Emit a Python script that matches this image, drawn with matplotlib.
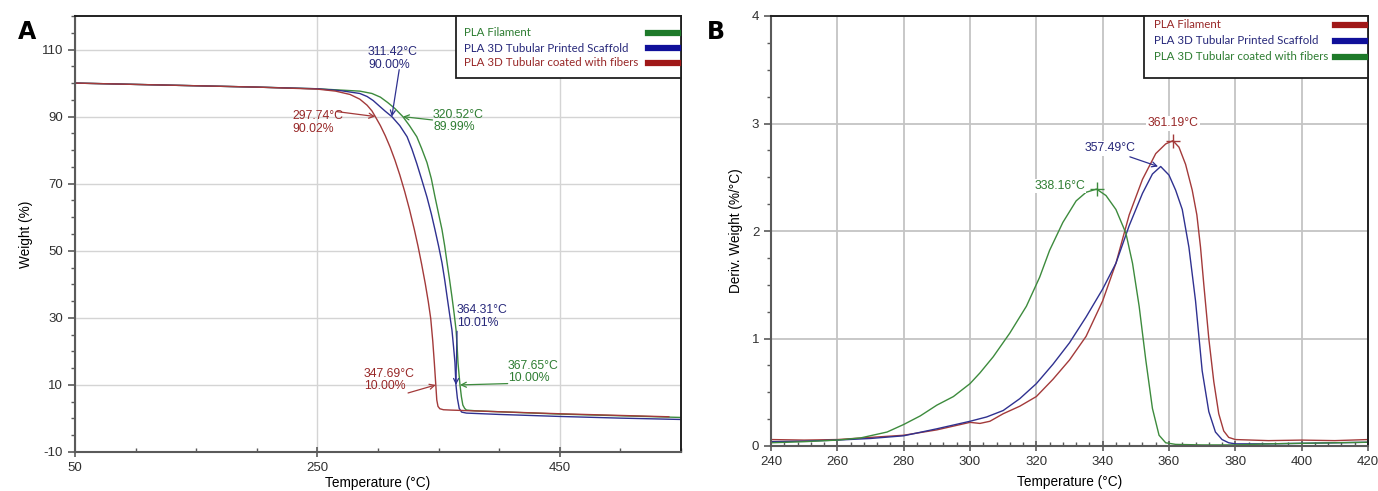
import numpy as np
import matplotlib.pyplot as plt
from matplotlib.lines import Line2D
from matplotlib.patches import Rectangle
from matplotlib.ticker import MultipleLocator

# ---- panel A: TGA weight curves ----
tga_fil_t = [50, 100, 150, 200, 250, 270, 285, 295, 302, 308, 314, 320.52, 326, 332, 336, 340.4,
             344, 347, 350, 352.8, 355, 357, 359, 361, 362.8, 364.4, 365.3, 366, 367.65, 368.8,
             370, 371.5, 373, 380, 400, 450, 500, 550]
tga_fil_w = [100, 99.6, 99.2, 98.8, 98.3, 97.9, 97.6, 96.9, 95.8, 94.2, 92.4, 89.99, 87.3, 84, 80.5, 76.3,
             71.5, 66.1, 61, 56.3, 51.5, 46.4, 41.5, 36.3, 31.3, 26.4, 21.5, 16.6, 10.0, 6.5,
             4.0, 3.0, 2.5, 2.3, 2.0, 1.3, 0.8, 0.3]

tga_scaf_t = [50, 100, 150, 200, 250, 270, 285, 291, 296, 301.6, 306, 311.42, 318, 324, 328, 332, 336,
              340.4, 344, 347, 350, 352.8, 355, 357, 359, 361, 362.3, 363.5, 364.31, 365.5, 367,
              369, 373, 400, 450, 500, 550]
tga_scaf_w = [100, 99.6, 99.2, 98.8, 98.3, 97.7, 96.9, 96.0, 94.8, 93.0, 91.6, 90.0, 87.3, 84, 80.3, 76, 71.3,
              66, 61, 56.3, 51.4, 46.4, 41.4, 36.3, 31.3, 26.4, 21.5, 16.6, 10.01, 6.0, 3.0,
              1.9, 1.6, 1.2, 0.6, 0.1, -0.3]

tga_fib_t = [50, 100, 150, 200, 250, 265, 277, 285, 291, 295, 297.74, 302, 306, 310, 314, 318, 322,
             326, 330, 333, 336, 339, 341.5, 343.5, 345.2, 346.5, 347.69, 348.5, 349.5, 351,
             354, 360, 400, 450, 500, 540]
tga_fib_w = [100, 99.6, 99.2, 98.8, 98.2, 97.6, 96.6, 95.2, 93.4, 91.7, 90.02, 87.3, 84.3, 80.9, 77.0, 72.6,
             67.7, 62.3, 56.3, 51.4, 46.0, 40.2, 34.8, 29.8, 23.0, 16.5, 10.0, 5.5, 3.6, 2.9,
             2.6, 2.5, 2.0, 1.4, 0.9, 0.5]

# ---- panel B: derivative weight curves ----
dtg_fil_t = [240, 250, 260, 270, 280, 290, 300, 303, 306, 310, 315, 320, 325, 330, 335, 340, 344, 348,
             352, 356, 359, 361.19, 363, 365, 367, 368.4, 369.5, 370.5, 372, 373.5, 375, 376.5, 378,
             380, 385, 390, 400, 410, 420]
dtg_fil_d = [0.06, 0.055, 0.06, 0.08, 0.1, 0.15, 0.22, 0.21, 0.23, 0.3, 0.37, 0.46, 0.62, 0.8, 1.02, 1.35,
             1.7, 2.15, 2.48, 2.72, 2.81, 2.84, 2.78, 2.62, 2.38, 2.15, 1.85, 1.5, 1.0, 0.6, 0.3, 0.14,
             0.08, 0.06, 0.055, 0.05, 0.055, 0.05, 0.06]

dtg_scaf_t = [240, 250, 260, 270, 280, 290, 300, 305, 310, 315, 320, 325, 330, 335, 340, 344, 348, 352,
              355, 357.49, 360, 362, 364, 366, 368, 370, 372, 374, 376, 378, 380, 390, 400, 410, 420]
dtg_scaf_d = [0.04, 0.045, 0.055, 0.07, 0.095, 0.16, 0.23, 0.27, 0.33, 0.44, 0.58, 0.76, 0.96, 1.2, 1.46,
              1.7, 2.05, 2.35, 2.53, 2.6, 2.52, 2.38, 2.2, 1.85, 1.35, 0.7, 0.32, 0.13, 0.06, 0.03, 0.02,
              0.02, 0.025, 0.03, 0.035]

dtg_fib_t = [240, 250, 260, 267, 275, 280, 285, 290, 295, 300, 303, 307, 312, 317, 321, 324, 328, 332,
             335, 338.16, 341, 344, 347, 349, 351, 353, 355, 357, 359, 362, 370, 380, 390, 400, 420]
dtg_fib_d = [0.03, 0.04, 0.055, 0.075, 0.13, 0.2, 0.28, 0.38, 0.46, 0.58, 0.68, 0.83, 1.05, 1.3, 1.57,
             1.82, 2.08, 2.28, 2.36, 2.39, 2.33, 2.2, 1.98, 1.7, 1.3, 0.8, 0.35, 0.1, 0.03, 0.015, 0.01,
             0.01, 0.02, 0.025, 0.035]

series_names = ['PLA Filament', 'PLA 3D Tubular Printed Scaffold', 'PLA 3D Tubular coated with fibers']

GREEN, BLUE, RED = '#3d8b3d', '#2f3190', '#a33a3a'
GREEN_T, BLUE_T, RED_T = '#2e7d32', '#27287a', '#982828'
LEG_GREEN, LEG_BLUE, LEG_RED = '#1e7a2a', '#10109a', '#a01818'

plt.rcParams['font.family'] = ['Liberation Sans', 'DejaVu Sans']
plt.rcParams['axes.unicode_minus'] = False
plt.rcParams['text.color'] = '#303030'

W, H = 1378, 491


def style_axes(ax, grid_color, grid_lw):
    for side in ['left', 'bottom']:
        ax.spines[side].set_color('#5a5a5a')
        ax.spines[side].set_linewidth(1.5)
    for side in ['top', 'right']:
        ax.spines[side].set_color('#202020')
        ax.spines[side].set_linewidth(1.4)
    ax.tick_params(axis='both', which='both', colors='#5a5a5a', labelcolor='#303030', labelsize=9.5)
    ax.tick_params(axis='y', which='major', direction='out', length=5, width=1.2)
    ax.tick_params(axis='y', which='minor', direction='out', length=3, width=1)
    ax.tick_params(axis='x', which='major', direction='inout', length=7, width=1.2)
    ax.tick_params(axis='x', which='minor', direction='in', length=3, width=1)
    ax.grid(True, which='major', color=grid_color, lw=grid_lw)
    ax.set_axisbelow(True)


def draw_legend(fig, names, text_cols, line_cols, box, text_x, rows, handle_x):
    # box = (left, top, right, bottom) in pixels from the top-left corner
    l, t, r, b = box
    fig.add_artist(Rectangle((l / W, 1 - b / H), (r - l) / W, (b - t) / H, transform=fig.transFigure,
                             facecolor='white', edgecolor='#202020', lw=1.3, zorder=5))
    for name, tc, lc, y in zip(names, text_cols, line_cols, rows):
        fig.text(text_x / W, 1 - y / H, name, color=tc, fontsize=8.3, family='Lato',
                 va='center', ha='left', zorder=6)
        fig.add_artist(Line2D([handle_x[0] / W, handle_x[1] / W], [1 - y / H, 1 - y / H],
                              transform=fig.transFigure, color=lc, lw=4.5, zorder=6))


fig = plt.figure(figsize=(W / 100, H / 100), dpi=100)

# ---------------- panel A ----------------
ax_a = fig.add_axes([75 / W, 1 - 452 / H, 606 / W, 436 / H])
ax_a.plot(tga_fil_t, tga_fil_w, color=GREEN, lw=1.0)
ax_a.plot(tga_scaf_t, tga_scaf_w, color=BLUE, lw=1.0)
ax_a.plot(tga_fib_t, tga_fib_w, color=RED, lw=1.0)
ax_a.set_xlim(50, 550)
ax_a.set_ylim(-10, 120)
ax_a.set_xticks([50, 250, 450])
ax_a.set_yticks([-10, 10, 30, 50, 70, 90, 110])
ax_a.xaxis.set_minor_locator(MultipleLocator(50))
ax_a.yaxis.set_minor_locator(MultipleLocator(5))
style_axes(ax_a, '#d4d4d4', 1.0)
ax_a.set_xlabel('Temperature (°C)', fontsize=9.8, labelpad=2)
ax_a.set_ylabel('Weight (%)', fontsize=9.8, labelpad=6)

ann_fs = 8.8
arrow = dict(arrowstyle='->', lw=0.9, shrinkA=0, shrinkB=0, mutation_scale=9)


def tga_note(ax, label, point, tail, text_pos, arrow_col, text_col):
    ax.annotate('', xy=point, xytext=tail, arrowprops=dict(arrow, color=arrow_col))
    ax.text(text_pos[0], text_pos[1], label, color=text_col, fontsize=ann_fs,
            va='center', ha='left', linespacing=1.05)


tga_note(ax_a, '311.42°C\n90.00%', (311.42, 90.0), (317.5, 104), (291.7, 107.3), BLUE, BLUE_T)
tga_note(ax_a, '297.74°C\n90.02%', (297.74, 90.02), (266, 91.5), (229, 88.2), RED, RED_T)
tga_note(ax_a, '320.52°C\n89.99%', (320.52, 89.99), (345, 89), (345.4, 88.7), GREEN, GREEN_T)
tga_note(ax_a, '364.31°C\n10.01%', (364.31, 10.01), (365.2, 26), (365.2, 30.4), BLUE, BLUE_T)
tga_note(ax_a, '367.65°C\n10.00%', (367.65, 10.0), (407, 10.4), (407, 13.9), GREEN, GREEN_T)
tga_note(ax_a, '347.69°C\n10.00%', (347.69, 10.0), (324.8, 7.6), (288.5, 11.5), RED, RED_T)

draw_legend(fig, series_names, (GREEN_T, BLUE_T, RED_T), (LEG_GREEN, LEG_BLUE, LEG_RED),
            (456, 16, 681, 78), 464, (33, 48, 63), (648, 678))

# ---------------- panel B ----------------
ax_b = fig.add_axes([771 / W, 1 - 446 / H, 597 / W, 430 / H])
ax_b.plot(dtg_fil_t, dtg_fil_d, color=RED, lw=1.0)
ax_b.plot(dtg_scaf_t, dtg_scaf_d, color=BLUE, lw=1.0)
ax_b.plot(dtg_fib_t, dtg_fib_d, color=GREEN, lw=1.0)
ax_b.set_xlim(240, 420)
ax_b.set_ylim(0, 4)
ax_b.set_xticks(np.arange(240, 421, 20))
ax_b.set_yticks([0, 1, 2, 3, 4])
ax_b.xaxis.set_minor_locator(MultipleLocator(4))
ax_b.yaxis.set_minor_locator(MultipleLocator(0.25))
style_axes(ax_b, '#c4c4c4', 1.3)
ax_b.set_xlabel('Temperature (°C)', fontsize=9.8, labelpad=5)
ax_b.set_ylabel('Deriv. Weight (%/°C)', fontsize=9.8, labelpad=6)

peak_pts = []
for t, d, c in [(dtg_fil_t, dtg_fil_d, RED), (dtg_scaf_t, dtg_scaf_d, BLUE), (dtg_fib_t, dtg_fib_d, GREEN)]:
    i = int(np.argmax(d))
    peak_pts.append((t[i], d[i]))
    if c != BLUE:
        ax_b.plot(t[i], d[i], marker='+', ms=10, mew=1.0, color=c)

box = dict(facecolor='white', edgecolor='none', pad=1)
ax_b.text(peak_pts[0][0], 3.0, f'{peak_pts[0][0]:.2f}°C', color=RED_T, fontsize=ann_fs,
          ha='center', va='center', bbox=box)
ax_b.annotate('', xy=(356.7, 2.6), xytext=(348.2, 2.69), arrowprops=dict(arrow, color=BLUE))
ax_b.text(342.2, 2.77, f'{peak_pts[1][0]:.2f}°C', color=BLUE_T, fontsize=ann_fs,
          ha='center', va='center', bbox=box)
ax_b.text(327.0, 2.42, f'{peak_pts[2][0]:.2f}°C', color=GREEN_T, fontsize=ann_fs,
          ha='center', va='center', bbox=box)

draw_legend(fig, series_names, (RED_T, BLUE_T, GREEN_T), (LEG_RED, LEG_BLUE, LEG_GREEN),
            (1144, 16, 1368, 78), 1154, (25, 41, 57), (1335, 1365))

fig.text(18 / W, 1 - 32 / H, 'A', fontsize=17, fontweight='heavy', family='DejaVu Sans',
         color='black', va='center', ha='left')
fig.text(707 / W, 1 - 32 / H, 'B', fontsize=17, fontweight='heavy', family='DejaVu Sans',
         color='black', va='center', ha='left')

fig.savefig('out.png', dpi=100)
